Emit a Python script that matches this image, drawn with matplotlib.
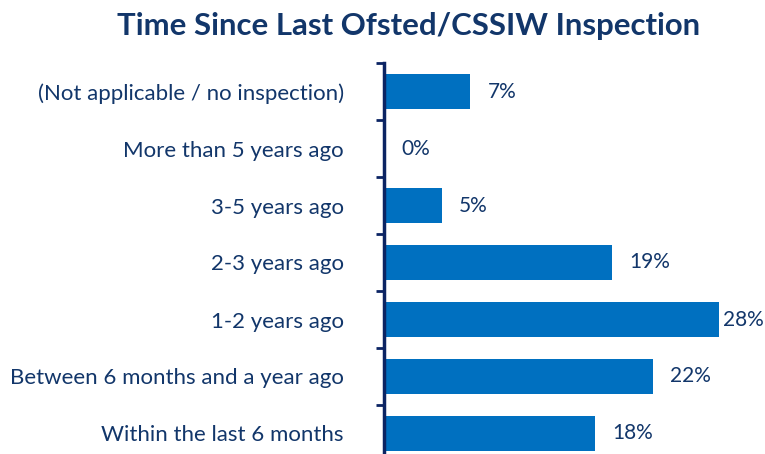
import matplotlib
matplotlib.use("Agg")
import matplotlib.pyplot as plt
from matplotlib.ticker import FixedLocator, NullFormatter

categories = ["(Not applicable / no inspection)", "More than 5 years ago", "3-5 years ago",
              "2-3 years ago", "1-2 years ago", "Between 6 months and a year ago",
              "Within the last 6 months"]
values = [7.2, 0.0, 4.8, 19.0, 27.9, 22.4, 17.6]
value_labels = ["7%", "0%", "5%", "19%", "28%", "22%", "18%"]
title = "Time Since Last Ofsted/CSSIW Inspection"

plt.rcParams['font.family'] = ['Lato', 'DejaVu Sans']
W, H = 765, 454
fig = plt.figure(figsize=(W/100, H/100), dpi=100)
ax_left, ax_right, ax_top, ax_bot = 384, 765, 63, 462
ax = fig.add_axes([ax_left/W, (H-ax_bot)/H, (ax_right-ax_left)/W, (ax_bot-ax_top)/H])

text_col = "#12366A"
bar_col = "#0070C0"
spine_col = "#0B2463"

n = len(categories)
ypos = list(range(n))
ax.barh(ypos, values, height=0.62, color=bar_col)
xmax = (ax_right-ax_left)/12.0
ax.set_xlim(0, xmax)
ax.set_ylim(n-0.5, -0.5)

for y, v, lab in zip(ypos, values, value_labels):
    xt = min(v + 1.45, xmax - 3.5)
    ax.text(xt, y, lab, va='center', ha='left', fontsize=15, color=text_col)

for s in ['top', 'right', 'bottom']:
    ax.spines[s].set_visible(False)
ax.spines['left'].set_color(spine_col)
ax.spines['left'].set_linewidth(2.5)
ax.set_xticks([])
ax.yaxis.set_major_locator(FixedLocator(ypos))
ax.set_yticklabels(categories, fontsize=16, color=text_col)
ax.tick_params(axis='y', which='major', length=0, pad=29)
ax.yaxis.set_minor_locator(FixedLocator([i - 0.5 for i in range(n + 1)]))
ax.yaxis.set_minor_formatter(NullFormatter())
ax.tick_params(axis='y', which='minor', length=6, width=2, color=spine_col)

fig.text(409/W, 1 - 26/H, title, ha='center', va='center', fontsize=22.4,
         fontweight='bold', color=text_col)

fig.savefig("out.png", dpi=100)
